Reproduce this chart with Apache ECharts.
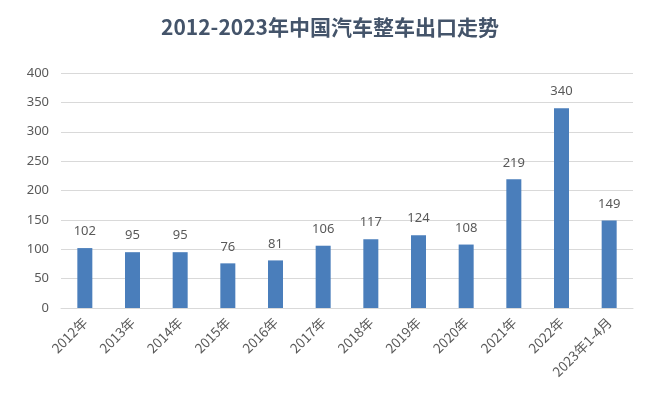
<!DOCTYPE html>
<html><head><meta charset="utf-8">
<script src="https://cdn.jsdelivr.net/npm/echarts@6/dist/echarts.min.js"></script>
<style>html,body{margin:0;padding:0;background:#fff;}#c{width:660px;height:406px;}</style>
</head><body><div id="c"></div>
<script>
var categories = ['2012年','2013年','2014年','2015年','2016年','2017年','2018年','2019年','2020年','2021年','2022年','2023年1-4月'];
var exportsVol = [102, 95, 95, 76, 81, 106, 117, 124, 108, 219, 340, 149];
var yTicks = {min: 0, max: 400, interval: 50};
var chart = echarts.init(document.getElementById('c'));
chart.setOption({
  animation: false,
  backgroundColor: '#fff',
  title: {
    text: '2012-2023年中国汽车整车出口走势',
    left: 'center', top: 12,
    textStyle: {fontFamily: 'Noto Sans CJK SC', fontWeight: 'bold', fontSize: 21, color: '#44546a'}
  },
  grid: {left: 61, right: 27, top: 73, bottom: 98},
  xAxis: {
    type: 'category', data: categories,
    axisLine: {lineStyle: {color: '#d9d9d9'}},
    axisTick: {show: false},
    axisLabel: {rotate: 45, color: '#595959', fontSize: 13.5, fontFamily: 'Noto Sans CJK SC', margin: 12, interval: 0}
  },
  yAxis: {
    type: 'value', min: yTicks.min, max: yTicks.max, interval: yTicks.interval,
    axisLine: {show: false}, axisTick: {show: false},
    splitLine: {lineStyle: {color: '#d9d9d9'}},
    axisLabel: {color: '#595959', fontSize: 13, fontFamily: 'Noto Sans', margin: 12}
  },
  series: [{
    type: 'bar', data: exportsVol, barWidth: 15,
    itemStyle: {color: '#4a7ebb'},
    label: {show: true, position: 'top', distance: 10, color: '#595959', fontSize: 13, fontFamily: 'Noto Sans'}
  }]
});
</script></body></html>
